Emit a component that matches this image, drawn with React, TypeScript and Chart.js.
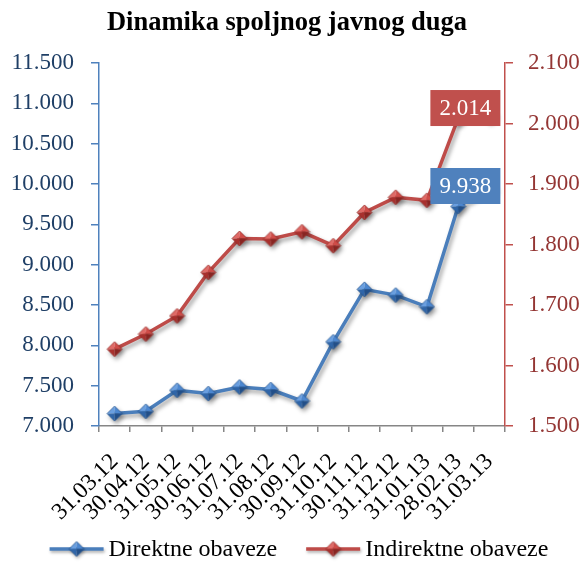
import React, { useEffect, useRef } from 'react';
import { Chart, registerables } from 'chart.js';

Chart.register(...registerables);

const chartTitle = 'Dinamika spoljnog javnog duga';
const categories = [
  '31.03.12', '30.04.12', '31.05.12', '30.06.12', '31.07.12', '31.08.12', '30.09.12',
  '31.10.12', '30.11.12', '31.12.12', '31.01.13', '28.02.13', '31.03.13',
];
const seriesNames = ['Direktne obaveze', 'Indirektne obaveze'];
const direktne = [7154, 7182, 7443, 7402, 7484, 7452, 7310, 8043, 8694, 8623, 8478, 9722, 9938];
const indirektne = [1627, 1652, 1682, 1754, 1810, 1809, 1821, 1798, 1853, 1878, 1873, 2009, 2014];
const leftAxisRange = [7000, 11500, 500];
const rightAxisRange = [1500, 2100, 100];

const FONT = "'Liberation Serif', 'Times New Roman', serif";
const BLUE = '#4A7EBB';
const RED = '#BE4B48';

const fmt = (v: number) => Math.round(v).toString().replace(/\B(?=(\d{3})+(?!\d))/g, '.');

function makeDiamond(c1: string, c2: string, c3: string, c4: string, edge: string) {
  const c = document.createElement('canvas');
  const s = 17;
  c.width = s;
  c.height = s;
  const g = c.getContext('2d')!;
  const m = s / 2;
  const r = 7.5;
  const tri = (pts: number[][], col: string) => {
    g.beginPath();
    g.moveTo(pts[0][0], pts[0][1]);
    g.lineTo(pts[1][0], pts[1][1]);
    g.lineTo(pts[2][0], pts[2][1]);
    g.closePath();
    g.fillStyle = col;
    g.fill();
  };
  tri([[m, m], [m - r, m], [m, m - r]], c1);
  tri([[m, m], [m, m - r], [m + r, m]], c2);
  tri([[m, m], [m + r, m], [m, m + r]], c4);
  tri([[m, m], [m, m + r], [m - r, m]], c3);
  g.beginPath();
  g.moveTo(m - r, m);
  g.lineTo(m, m - r);
  g.lineTo(m + r, m);
  g.lineTo(m, m + r);
  g.closePath();
  g.strokeStyle = edge;
  g.lineWidth = 0.8;
  g.stroke();
  return c;
}

export default function App() {
  const ref = useRef<HTMLCanvasElement | null>(null);

  useEffect(() => {
    document.body.style.margin = '0';
    const canvas = ref.current;
    if (!canvas) return;

    const blueMarker = makeDiamond('#6A9FE0', '#4C87D0', '#2F65A8', '#224F88', '#2A5A94');
    const redMarker = makeDiamond('#E06A66', '#CF4C48', '#A8302D', '#882522', '#9A2E2B');
    const markers = [blueMarker, redMarker];
    const colors = [BLUE, RED];
    const labelFills = ['#4F81BD', '#C0504D'];
    const labelOffsets = [[-24, -3], [-24, -7]];

    const shadowPlugin = {
      id: 'shadowFx',
      beforeDatasetsDraw(chart: any) {
        const ctx = chart.ctx;
        ctx.save();
        ctx.shadowColor = 'rgba(0,0,0,0.38)';
        ctx.shadowBlur = 4;
        ctx.shadowOffsetX = 2;
        ctx.shadowOffsetY = 3;
      },
      afterDatasetsDraw(chart: any) {
        chart.ctx.restore();
      },
    };

    const decorPlugin = {
      id: 'decor',
      afterDraw(chart: any) {
        const ctx = chart.ctx as CanvasRenderingContext2D;
        // title
        ctx.save();
        ctx.fillStyle = '#000';
        ctx.font = `bold 26.5px ${FONT}`;
        ctx.textAlign = 'center';
        ctx.textBaseline = 'alphabetic';
        ctx.fillText(chartTitle, 287, 30);
        ctx.restore();

        // data labels on last point
        chart.data.datasets.forEach((ds: any, i: number) => {
          const meta = chart.getDatasetMeta(i);
          const pt = meta.data[meta.data.length - 1];
          if (!pt) return;
          const val = ds.data[ds.data.length - 1];
          const cx = pt.x + labelOffsets[i][0];
          const cy = pt.y + labelOffsets[i][1];
          const w = 70;
          const h = 36;
          ctx.save();
          ctx.fillStyle = labelFills[i];
          ctx.fillRect(cx - w / 2, cy - h / 2, w, h);
          ctx.fillStyle = '#fff';
          ctx.font = `23px ${FONT}`;
          ctx.textAlign = 'center';
          ctx.textBaseline = 'middle';
          ctx.fillText(fmt(val), cx, cy + 1);
          ctx.restore();
        });

        // legend
        ctx.save();
        ctx.font = `24px ${FONT}`;
        const lineW = 54;
        const gap = 5;
        const itemGap = 29;
        const widths = seriesNames.map((n) => ctx.measureText(n).width);
        const total = widths.reduce((a, b) => a + b + lineW + gap, 0) + itemGap * (seriesNames.length - 1);
        let x = 299 - total / 2;
        const ly = 549;
        seriesNames.forEach((name, i) => {
          ctx.save();
          ctx.shadowColor = 'rgba(0,0,0,0.3)';
          ctx.shadowBlur = 3;
          ctx.shadowOffsetX = 1;
          ctx.shadowOffsetY = 2;
          ctx.strokeStyle = colors[i];
          ctx.lineWidth = 3.5;
          ctx.beginPath();
          ctx.moveTo(x, ly);
          ctx.lineTo(x + lineW, ly);
          ctx.stroke();
          const mk = markers[i];
          ctx.drawImage(mk, x + lineW / 2 - mk.width / 2, ly - mk.height / 2);
          ctx.restore();
          ctx.fillStyle = '#000';
          ctx.textAlign = 'left';
          ctx.textBaseline = 'middle';
          ctx.fillText(name, x + lineW + gap, ly + 1);
          x += lineW + gap + widths[i] + itemGap;
        });
        ctx.restore();
      },
    };

    const chart = new Chart(canvas, {
      type: 'line',
      data: {
        labels: categories,
        datasets: [
          {
            label: seriesNames[0],
            data: direktne,
            yAxisID: 'y',
            borderColor: BLUE,
            borderWidth: 3.5,
            pointStyle: blueMarker as any,
            pointRadius: 7,
            tension: 0,
          },
          {
            label: seriesNames[1],
            data: indirektne,
            yAxisID: 'y1',
            borderColor: RED,
            borderWidth: 3.5,
            pointStyle: redMarker as any,
            pointRadius: 7,
            tension: 0,
          },
        ],
      },
      options: {
        animation: false,
        responsive: false,
        events: [],
        layout: { padding: { top: 63, left: 0, right: 0, bottom: 30 } },
        plugins: {
          legend: { display: false },
          title: { display: false },
          tooltip: { enabled: false },
        },
        scales: {
          x: {
            offset: true,
            grid: {
              offset: true,
              drawOnChartArea: false,
              tickLength: 6,
              color: '#868686',
              lineWidth: 1.5,
            },
            border: { color: '#868686', width: 1.5 },
            ticks: {
              autoSkip: false,
              maxRotation: 45,
              minRotation: 45,
              padding: 16,
              color: '#000',
              font: { family: FONT, size: 23.5 },
            },
            afterFit: (s: any) => {
              s.height = 114;
            },
          },
          y: {
            position: 'left',
            min: leftAxisRange[0],
            max: leftAxisRange[1],
            grid: {
              drawOnChartArea: false,
              tickLength: 8,
              color: '#4F81BD',
              lineWidth: 1.5,
            },
            border: { color: '#4F81BD', width: 1.5 },
            ticks: {
              stepSize: leftAxisRange[2],
              padding: 17,
              color: '#1F3F66',
              font: { family: FONT, size: 23 },
              callback: (v: any) => fmt(Number(v)),
            },
            afterFit: (s: any) => {
              s.width = 99;
            },
          },
          y1: {
            position: 'right',
            min: rightAxisRange[0],
            max: rightAxisRange[1],
            grid: {
              drawOnChartArea: false,
              tickLength: 8,
              color: '#C0504D',
              lineWidth: 1.5,
            },
            border: { color: '#C0504D', width: 1.5 },
            ticks: {
              stepSize: rightAxisRange[2],
              padding: 15,
              color: '#943634',
              font: { family: FONT, size: 23 },
              callback: (v: any) => fmt(Number(v)),
            },
            afterFit: (s: any) => {
              s.width = 81;
            },
          },
        },
      },
      plugins: [shadowPlugin, decorPlugin],
    });

    return () => {
      chart.destroy();
    };
  }, []);

  return (
    <div style={{ width: 586, height: 570, overflow: 'hidden', background: '#fff' }}>
      <canvas ref={ref} width={586} height={570} style={{ display: 'block' }} />
    </div>
  );
}
